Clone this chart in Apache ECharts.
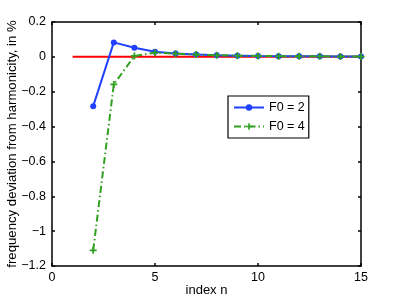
<!DOCTYPE html>
<html><head><meta charset="utf-8">
<script src="https://cdn.jsdelivr.net/npm/echarts@6/dist/echarts.min.js"></script>
<style>html,body{margin:0;padding:0;background:#fff}#c{width:398px;height:299px}</style>
</head><body><div id="c"></div>
<script>
const nIndex = [2,3,4,5,6,7,8,9,10,11,12,13,14,15];
const f0_2 = [-0.283, 0.083, 0.052, 0.029, 0.019, 0.013, 0.009, 0.007, 0.005, 0.004, 0.003, 0.003, 0.002, 0.002];
const f0_4 = [-1.11, -0.158, 0.005, 0.024, 0.018, 0.013, 0.009, 0.007, 0.005, 0.004, 0.003, 0.003, 0.002, 0.002];
const refLineX = [1, 15];
const refLineY = [0, 0];
const xTicks = [0, 5, 10, 15];
const yTicks = [0.2, 0, -0.2, -0.4, -0.6, -0.8, -1, -1.2];

const font = '"Liberation Sans", Arial, sans-serif';
const plus = 'path://M-1,-4h2v3h3v2h-3v3h-2v-3h-3v-2h3z';
const chart = echarts.init(document.getElementById('c'));
const fmtY = v => { const s = (Math.round(v*10)/10).toString(); return s.replace('-', '\u2212'); };
const axisCommon = {
  axisLine: {show: true, onZero: false, lineStyle: {color: '#000', width: 1.5}},
  axisTick: {show: true, inside: true, length: 3, lineStyle: {color: '#000', width: 1.5}},
  splitLine: {show: false}
};
chart.setOption({
  animation: false,
  grid: {left: 52, right: 37, top: 22, bottom: 33, outerBoundsMode: 'none', containLabel: false},
  legend: {
    data: ['F0 = 2', 'F0 = 4'],
    left: 228, top: 96, orient: 'vertical',
    itemWidth: 30, itemHeight: 8, itemGap: 6,
    padding: [5, 4, 5, 5],
    borderColor: '#000', borderWidth: 1.2,
    textStyle: {fontFamily: font, fontSize: 12.5, color: '#000'}
  },
  xAxis: [
    Object.assign({type: 'value', min: 0, max: 15, interval: 5, position: 'bottom',
      name: 'index n', nameLocation: 'middle', nameGap: 18, nameMoveOverlap: false,
      nameTextStyle: {fontFamily: font, fontSize: 13, color: '#000'},
      axisLabel: {fontFamily: font, fontSize: 12.5, color: '#000', margin: 5}}, axisCommon),
    Object.assign({type: 'value', min: 0, max: 15, interval: 5, position: 'top',
      axisLabel: {show: false}}, axisCommon)
  ],
  yAxis: [
    Object.assign({type: 'value', min: -1.2, max: 0.2, interval: 0.2, position: 'left',
      name: 'frequency deviation from harmonicity, in %', nameLocation: 'middle', nameGap: 33, nameMoveOverlap: false,
      nameTextStyle: {fontFamily: font, fontSize: 13.2, color: '#000'},
      axisLabel: {fontFamily: font, fontSize: 12.5, color: '#000', margin: 6, formatter: fmtY}}, axisCommon),
    Object.assign({type: 'value', min: -1.2, max: 0.2, interval: 0.2, position: 'right',
      axisLabel: {show: false}}, axisCommon)
  ],
  series: [
    {name: 'ref', type: 'line', data: refLineX.map((x, i) => [x, refLineY[i]]),
      symbol: 'none', lineStyle: {color: '#ff0000', width: 2}, z: 1},
    {name: 'F0 = 2', type: 'line', data: nIndex.map((n, i) => [n, f0_2[i]]),
      symbol: 'circle', symbolSize: 6, color: '#2040ff',
      lineStyle: {color: '#2040ff', width: 2}, itemStyle: {color: '#2040ff'}, z: 3},
    {name: 'F0 = 4', type: 'line', data: nIndex.map((n, i) => [n, f0_4[i]]),
      symbol: plus, symbolSize: 7, color: '#30a020',
      lineStyle: {color: '#30a020', width: 2, type: [7, 3, 1.5, 3]}, itemStyle: {color: '#30a020'}, z: 4}
  ]
});
</script></body></html>
